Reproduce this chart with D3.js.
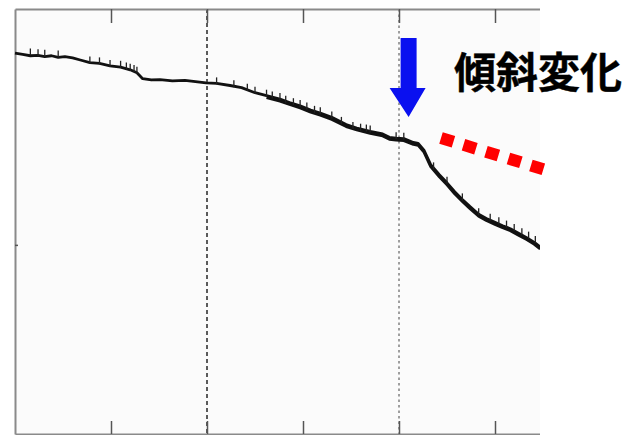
<!DOCTYPE html>
<meta charset="utf-8">
<style>
body { margin: 0; background: #fff; }
.axis path { stroke: #8a8a8a; stroke-width: 2px; }
.axis line { stroke: #555; stroke-width: 1.5px; }
.line { fill: none; stroke: #111; stroke-width: 2.8px; stroke-linejoin: round; }
.spike { stroke: #222; stroke-width: 1.3px; }
</style>
<body>
<script src="https://cdn.jsdelivr.net/npm/d3@7"></script>
<script>

// time axis (divisions) and level values
var timeVals = [0, 0.08, 0.16, 0.24, 0.31, 0.38, 0.45, 0.52, 0.6, 0.68, 0.78, 0.88, 0.99, 1.1, 1.2, 1.27, 1.33, 1.42, 1.51, 1.64, 1.77, 1.88, 1.99, 2.1, 2.24, 2.36, 2.5, 2.62, 2.76, 2.86, 2.97, 3.08, 3.18, 3.3, 3.45, 3.56, 3.7, 3.83, 3.9, 3.97, 4.05, 4.15, 4.2, 4.26, 4.33, 4.42, 4.5, 4.58, 4.66, 4.74, 4.83, 4.91, 5.0, 5.08, 5.16, 5.25, 5.33, 5.41, 5.47];
var levelVals = [8.96, 8.93, 8.9, 8.91, 8.88, 8.9, 8.86, 8.88, 8.85, 8.8, 8.74, 8.72, 8.66, 8.63, 8.57, 8.5, 8.36, 8.33, 8.34, 8.31, 8.32, 8.29, 8.26, 8.25, 8.2, 8.15, 8.03, 7.96, 7.88, 7.8, 7.72, 7.62, 7.55, 7.45, 7.28, 7.2, 7.12, 7.06, 6.98, 6.96, 6.95, 6.86, 6.84, 6.68, 6.34, 6.1, 5.91, 5.7, 5.52, 5.35, 5.17, 5.07, 4.98, 4.9, 4.83, 4.72, 4.62, 4.51, 4.4];
// little noise marks hanging on the trace
var spikeTimes = [0.16, 0.24, 0.31, 0.45, 0.78, 0.88, 0.99, 1.1, 1.16, 1.2, 1.24, 1.27, 2.1, 2.28, 2.42, 2.5, 2.62, 2.68, 2.76, 2.82, 2.9, 2.97, 3.04, 3.12, 3.18, 3.3, 3.4, 3.52, 3.6, 3.66, 3.7, 3.97, 4.05, 4.36, 4.5, 4.66, 4.83, 4.95, 5.04, 5.12, 5.2, 5.28, 5.35, 5.42];
var spikeLevels = [8.93, 8.91, 8.9, 8.88, 8.74, 8.72, 8.66, 8.64, 8.6, 8.57, 8.54, 8.5, 8.25, 8.18, 8.1, 8.03, 7.96, 7.92, 7.88, 7.82, 7.76, 7.72, 7.66, 7.58, 7.55, 7.45, 7.32, 7.2, 7.16, 7.14, 7.12, 6.96, 6.95, 6.25, 5.91, 5.52, 5.17, 5.04, 4.96, 4.88, 4.8, 4.7, 4.62, 4.52];
var gridTimes = [2, 4];
var tickTimes = [1, 2, 3, 4, 5];
var label = "傾斜変化";

var width = 626, height = 435;
var svg = d3.select("body").append("svg")
    .attr("width", width)
    .attr("height", height);

var x = d3.scaleLinear().domain([0, 6]).range([15, 591]);
var y = d3.scaleLinear().domain([0, 10]).range([434, 9]);
var right = 540;

svg.append("clipPath").attr("id", "clip")
  .append("rect").attr("x", 0).attr("y", 0).attr("width", right).attr("height", height);

var g = svg.append("g").attr("clip-path", "url(#clip)");

// plot background
g.append("rect")
    .attr("x", x(0)).attr("y", y(10))
    .attr("width", right - x(0)).attr("height", y(0) - y(10))
    .attr("fill", "#fbfbfb");

// dashed vertical gridlines
g.selectAll(".grid")
    .data(gridTimes)
  .enter().append("line")
    .attr("x1", function(d) { return x(d); })
    .attr("x2", function(d) { return x(d); })
    .attr("y1", y(10)).attr("y2", y(0))
    .attr("stroke", function(d, i) { return i == 0 ? "#333" : "#888"; })
    .attr("stroke-width", 1.6)
    .attr("stroke-dasharray", function(d, i) { return i == 0 ? "4,3" : "2.5,3"; });

// top and bottom axes, ticks pointing inward
g.append("g")
    .attr("class", "axis")
    .attr("transform", "translate(0," + y(10) + ")")
    .call(d3.axisTop(x).tickValues(tickTimes).tickSize(-14).tickSizeOuter(0).tickFormat(""));
g.append("g")
    .attr("class", "axis")
    .attr("transform", "translate(0," + y(0) + ")")
    .call(d3.axisBottom(x).tickValues(tickTimes).tickSize(-13).tickSizeOuter(0).tickFormat(""));
g.append("g")
    .attr("class", "axis")
    .attr("transform", "translate(" + x(0) + ",0)")
    .call(d3.axisLeft(y).tickValues([4.45]).tickSize(-3).tickSizeOuter(0).tickFormat(""));

var data = timeVals.map(function(t, i) { return {t: t, v: levelVals[i]}; });
var spikes = spikeTimes.map(function(t, i) { return {t: t, v: spikeLevels[i]}; });

var valueline = d3.line()
    .x(function(d) { return x(d.t); })
    .y(function(d) { return y(d.v); });

g.append("path").datum(data).attr("class", "line").attr("d", valueline);
// the noisy part of the record looks fatter
g.append("path").datum(data.filter(function(d) { return d.t > 2.6; }))
    .attr("class", "line")
    .attr("stroke-width", 2.6)
    .attr("transform", "translate(0,2)")
    .attr("d", valueline);

g.selectAll(".spike")
    .data(spikes)
  .enter().append("line")
    .attr("class", "spike")
    .attr("x1", function(d) { return x(d.t); })
    .attr("x2", function(d) { return x(d.t); })
    .attr("y1", function(d) { return y(d.v) - 6; })
    .attr("y2", function(d) { return y(d.v) + 1; });

// blue arrow pointing at the slope change
var ax = x(4.1);
svg.append("path")
    .attr("d", "M" + (ax - 8) + ",38 L" + (ax + 8) + ",38 L" + (ax + 8) + ",88 L" + (ax + 17) + ",88 L" + ax + ",117 L" + (ax - 19) + ",88 L" + (ax - 8) + ",88 Z")
    .attr("fill", "#0a10f0");

// red dotted extension of the previous slope
svg.append("line")
    .attr("x1", 441).attr("y1", 138)
    .attr("x2", 546).attr("y2", 170)
    .attr("stroke", "#ff0000")
    .attr("stroke-width", 12)
    .attr("stroke-dasharray", "13,10.5");

svg.append("text")
    .attr("x", 454).attr("y", 88)
    .attr("font-family", "'Noto Sans CJK JP'")
    .attr("font-weight", "bold")
    .attr("font-size", 42)
    .attr("fill", "#000")
    .attr("stroke", "#000")
    .attr("stroke-width", 0.4)
    .text(label);

</script>
</body>
